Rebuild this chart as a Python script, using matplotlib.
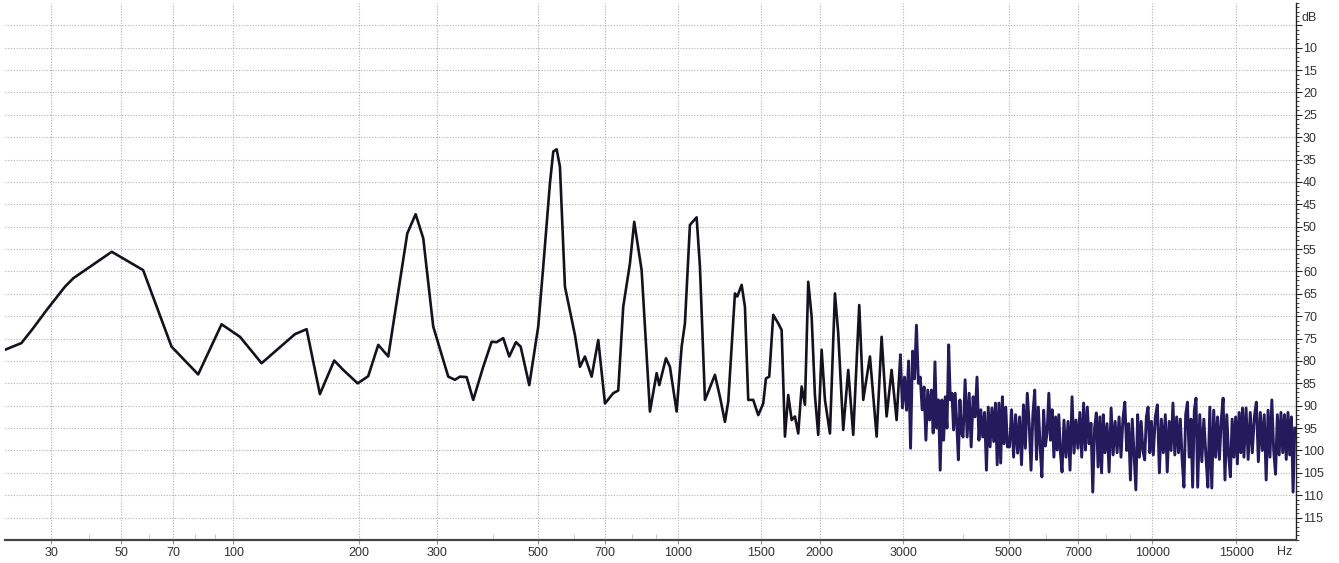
import numpy as np
import matplotlib.pyplot as plt
from matplotlib.ticker import FixedLocator, FuncFormatter

# spectrum: frequency (Hz) and level (dB below reference)
freq_low = [20, 23.3, 25.8, 28.9, 33.4, 35.6, 46.9, 57.8, 69.2, 81.4, 93.5, 104, 117.6,
            141.6, 150.9, 162.2, 175.2, 183.9, 198.5, 209.9, 221.3, 233.2, 257.5, 268.9,
            279.7, 294.4, 318]
db_low = [77.5, 76.0, 72.7, 68.6, 63.4, 61.5, 55.6, 59.7, 76.8, 83.0, 71.8, 74.6, 80.5,
          74.0, 72.9, 87.4, 79.9, 82.0, 85.0, 83.4, 76.4, 79.0, 51.5, 47.2,
          52.6, 72.3, 83.5]

freq_mid = [329.1, 337.6, 349.3, 361.2, 380, 396.5, 406.7, 420.4, 433.4, 448.2, 459, 479.2,
            501.3, 514, 531.5, 540.4, 549.6, 558.7, 572.8, 602, 617.2, 632.7, 654.1, 675.9,
            698.7, 728, 746.2, 764.8, 790.6, 807.5, 837.5, 872.5, 901.8, 913.4, 944, 962.7,
            994.9, 1019.7, 1036.3, 1062, 1097.5, 1115.4, 1143.1, 1161.7, 1200.4, 1230.2,
            1260.6, 1281.2, 1323.8, 1338.8, 1367.9, 1390.1, 1412.7, 1447.6, 1483.3, 1520,
            1540.1, 1565.1, 1595.9, 1635.3, 1662.6, 1689.6, 1716.9, 1745.6, 1773.9, 1802.6,
            1832.7, 1862.4, 1892.5, 1924.1, 1955.2, 1986.8, 2019.9, 2052.6, 2103.1, 2154.8,
            2189.6, 2243.5, 2298.6, 2355.1, 2424.7, 2472.2, 2554, 2638.3, 2702.8, 2769,
            2837, 2906.6]
db_mid = [84.2, 83.5, 83.6, 88.7, 81.3, 75.7, 75.8, 74.9, 79.0, 75.8, 76.8, 85.4,
          72.3, 58.9, 40.3, 33.2, 32.7, 36.6, 63.4, 74.2, 81.3, 79.0, 83.5, 75.3,
          89.5, 87.2, 86.6, 67.9, 58.2, 48.9, 59.7, 91.3, 82.7, 85.4, 79.4, 81.3,
          91.3, 76.8, 71.6, 49.6, 47.9, 58.9, 88.7, 86.9, 83.1, 88.0,
          93.6, 89.1, 64.9, 65.6, 63.0, 67.9, 88.7, 88.7, 92.1, 89.5,
          83.9, 83.5, 69.7, 71.6, 73.1, 96.9, 87.6, 93.2, 92.4, 96.2,
          85.7, 89.8, 62.3, 70.1, 87.7, 96.5, 77.5, 88.7, 96.2, 64.9,
          73.8, 95.4, 82.0, 96.5, 67.5, 88.7, 79.0, 96.9, 74.6, 92.4,
          82.0, 93.2]

freq_noise = [
    2960, 2990, 3020, 3050, 3080, 3110, 3140, 3170, 3200, 3230, 3260, 3290, 3320, 3350,
    3380, 3410, 3440, 3470, 3500, 3530, 3560, 3590, 3620, 3650, 3680, 3710, 3740, 3770,
    3800, 3830, 3860, 3890, 3920, 3950, 3980,
    4010, 4050, 4090, 4130, 4170, 4210, 4250, 4290, 4330, 4370, 4410, 4450, 4490, 4530,
    4570, 4610, 4650, 4690, 4730, 4770, 4810, 4850, 4890, 4930, 4970,
    5020, 5070, 5120, 5170, 5220, 5270, 5320, 5370, 5420, 5470, 5520, 5570, 5620, 5670,
    5720, 5770, 5820, 5870, 5920, 5970, 6020, 6070, 6120, 6170, 6220, 6270, 6320, 6370,
    6420, 6470,
    6530, 6595, 6660, 6725, 6790, 6855, 6920, 6985, 7050, 7115, 7180, 7245, 7310, 7375,
    7440, 7505, 7570, 7635, 7700, 7765, 7830, 7895, 7960,
    8040, 8120, 8200, 8280, 8360, 8440, 8520, 8600, 8680, 8760, 8840, 8920, 9000, 9080,
    9160, 9240, 9320, 9400, 9480, 9560, 9640, 9720, 9800, 9880, 9960,
    10050, 10150, 10250, 10350, 10450, 10550, 10650, 10750, 10850, 10950, 11050, 11150,
    11250, 11350, 11450, 11550, 11650, 11750, 11850, 11950, 12050, 12150, 12250, 12350,
    12450,
    12575, 12700, 12825, 12950, 13075, 13200, 13325, 13450, 13575, 13700, 13825, 13950,
    14075, 14200, 14325, 14450, 14575, 14700, 14825, 14950, 15075, 15200, 15325, 15450,
    15560, 15720, 15880, 16040, 16200, 16360, 16520, 16680, 16840, 17000, 17160, 17320,
    17480, 17640, 17800, 17960, 18120, 18280, 18440, 18600, 18760, 18920, 19080, 19240,
    19400, 19560, 19720, 19880]
db_noise = [
    78.7, 90.5, 83.6, 91.0, 80.0, 99.5, 77.8, 84.0, 72.0, 85.0, 83.6, 90.9, 85.8, 97.7,
    86.5, 93.2, 86.5, 96.1, 80.2, 95.0, 88.7, 104.4, 88.7, 97.7, 88.0, 95.0, 76.4, 88.7,
    87.2, 95.4, 87.2, 94.0, 102.1, 88.7, 96.1,
    97.0, 84.2, 97.0, 87.2, 99.2, 88.0, 92.5, 83.6, 97.7, 90.9, 97.0, 91.5, 104.4, 90.3,
    99.2, 90.5, 98.0, 89.4, 103.2, 89.4, 102.8, 88.0, 98.5, 90.3, 99.2,
    99.2, 90.9, 101.5, 92.0, 100.6, 92.5, 103.2, 89.8, 99.5, 87.2, 93.9, 104.4, 92.0, 86.5,
    102.0, 90.3, 99.0, 105.9, 91.0, 99.0, 96.0, 87.2, 97.7, 90.9, 101.5, 92.5, 99.9, 92.0,
    100.5, 104.8,
    93.2, 101.5, 93.5, 104.4, 88.0, 100.6, 93.2, 99.5, 91.5, 101.5, 89.4, 99.9, 90.3, 98.5,
    93.9, 109.3, 95.0, 91.6, 103.7, 92.5, 105.0, 92.0, 100.5,
    94.0, 104.8, 90.5, 101.0, 93.5, 100.5, 92.5, 101.5, 93.0, 89.2, 100.0, 94.0, 106.6, 93.0,
    101.0, 108.8, 92.0, 101.5, 93.5, 100.0, 102.1, 92.5, 90.3, 100.5, 93.5,
    101.0, 92.5, 89.8, 105.0, 93.0, 100.5, 92.0, 104.8, 93.5, 100.0, 89.4, 101.0,
    92.5, 100.5, 93.0, 102.0, 108.2, 92.0, 89.2, 101.5, 93.0, 108.2, 91.0, 88.3,
    108.2,
    92.0, 102.5, 93.0, 101.0, 108.2, 90.3, 108.4, 91.0, 101.5, 92.5, 102.0, 93.0,
    88.3, 106.6, 92.0, 101.0, 105.9, 93.0, 101.5, 92.5, 103.0, 91.5, 100.5, 90.5,
    101.5, 90.5, 102.0, 91.5, 100.5, 92.5, 89.2, 102.5, 91.5, 100.0, 92.0, 106.6,
    91.0, 101.5, 88.7, 100.0, 105.3, 92.0, 101.0, 91.5, 100.5, 92.0, 102.0, 91.5,
    101.0, 92.5, 109.3, 95.0]

x_ticks = [30, 50, 70, 100, 200, 300, 500, 700, 1000, 1500, 2000, 3000, 5000, 7000,
           10000, 15000]
x_minor = [40, 60, 80, 90, 400, 600, 800, 900, 4000, 6000, 8000, 9000]
db_ticks = list(range(5, 120, 5))


def fwd(f):
    # the analyser's frequency axis is log(f + 20), not a plain log
    return np.log10(np.maximum(np.asarray(f, dtype=float) + 20, 1e-6))


def inv(u):
    return 10 ** np.asarray(u, dtype=float) - 20


plt.rcParams['font.family'] = ['Liberation Sans', 'DejaVu Sans']

fig = plt.figure(figsize=(13.39, 5.63), dpi=100)
ax = fig.add_axes([0.0037, 0.0409, 0.9642, 0.9538])

# harmonics part drawn heavy and near black, the dense noise floor in dark indigo
ax.plot(freq_low + freq_mid + freq_noise[:1], db_low + db_mid + db_noise[:1],
        color='#15111f', lw=1.9, zorder=3)
ax.plot(freq_noise, db_noise, color='#241a5c', lw=2.1, zorder=3)

ax.set_xscale('function', functions=(fwd, inv))
ax.set_xlim(20, 20000)
ax.set_ylim(120, 0)

ax.xaxis.set_major_locator(FixedLocator(x_ticks))
ax.xaxis.set_minor_locator(FixedLocator(x_minor))
ax.xaxis.set_major_formatter(FuncFormatter(lambda v, p: f'{int(round(v))}'))
ax.xaxis.set_minor_formatter(FuncFormatter(lambda v, p: ''))

ax.yaxis.tick_right()
ax.yaxis.set_major_locator(FixedLocator(db_ticks))
ax.yaxis.set_minor_locator(FixedLocator(list(range(0, 121))))
ax.yaxis.set_major_formatter(FuncFormatter(lambda v, p: '' if v < 8 else f'{int(v)}'))

ax.grid(True, which='major', linestyle=(0, (1, 1.5)), color='#b0b0b0', lw=0.8)

for s in ['top', 'left']:
    ax.spines[s].set_visible(False)
ax.spines['bottom'].set_color('#444444')
ax.spines['bottom'].set_linewidth(1.6)
ax.spines['right'].set_color('#222222')
ax.spines['right'].set_linewidth(1.0)

ax.tick_params(axis='x', which='major', direction='out', length=3, color='#999999',
               labelsize=9, labelcolor='#333333', pad=2)
ax.tick_params(axis='x', which='minor', direction='in', length=4, color='#c0c0c0')
ax.tick_params(axis='y', which='major', direction='out', length=4, color='#222222',
               labelsize=9, labelcolor='#333333', pad=1)
ax.tick_params(axis='y', which='minor', direction='out', length=2, color='#222222')

ax.text(1.004, 3.4, 'dB', transform=ax.get_yaxis_transform(), ha='left', va='center',
        fontsize=9, color='#333333')
ax.text(18950, -0.012, 'Hz', transform=ax.get_xaxis_transform(), ha='center', va='top',
        fontsize=9, color='#333333')

fig.savefig('out.png', dpi=100, facecolor='white')
